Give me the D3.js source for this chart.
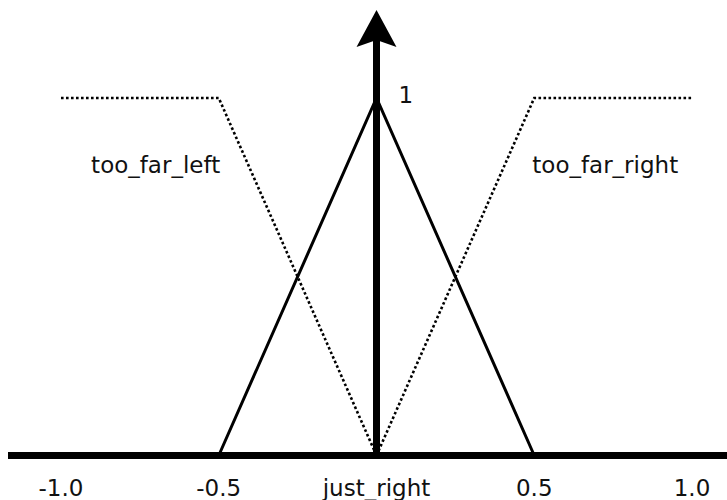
<!DOCTYPE html>
<html>
<head>
<meta charset="utf-8">
<script src="https://cdn.jsdelivr.net/npm/d3@7/dist/d3.min.js"></script>
<style>
  html, body { margin: 0; padding: 0; background: #fff; }
  svg { display: block; }
  text { font-family: "DejaVu Sans", sans-serif; font-size: 23px; fill: #111; }
</style>
</head>
<body>
<svg id="chart" width="727" height="500"></svg>
<script>
// Membership functions over the error range [-1, 1]
const tooFarLeft  = [{x: -1, y: 1}, {x: -0.5, y: 1}, {x: 0, y: 0}];
const justRight   = [{x: -0.5, y: 0}, {x: 0, y: 1}, {x: 0.5, y: 0}];
const tooFarRight = [{x: 0, y: 0}, {x: 0.5, y: 1}, {x: 1, y: 1}];

// Axis tick values and their labels
const tickValues = [-1, -0.5, 0, 0.5, 1];
const tickLabels = ["-1.0", "-0.5", "just_right", "0.5", "1.0"];

// Set names written next to the outer sets
const setLabels = [
  {text: "too_far_left",  x: -0.7,  y: 0.79},
  {text: "too_far_right", x: 0.725, y: 0.79}
];

const svg = d3.select("#chart");
const W = 727, H = 500;

const x = d3.scaleLinear().domain([-1, 1]).range([61, 692]);
const y = d3.scaleLinear().domain([0, 1]).range([455.5, 98]);

const line = d3.line().x(d => x(d.x)).y(d => y(d.y));

// horizontal axis
svg.append("line")
  .attr("x1", 8).attr("x2", W)
  .attr("y1", y(0)).attr("y2", y(0))
  .attr("stroke", "#000").attr("stroke-width", 7);

// outer sets, dotted
[tooFarLeft, tooFarRight].forEach(d => {
  svg.append("path")
    .attr("d", line(d))
    .attr("fill", "none")
    .attr("stroke", "#000")
    .attr("stroke-width", 2.6)
    .attr("stroke-dasharray", "2.6,2.4");
});

// centre set, solid triangle
svg.append("path")
  .attr("d", line(justRight))
  .attr("fill", "none")
  .attr("stroke", "#000")
  .attr("stroke-width", 3)
  .attr("stroke-linejoin", "miter");

// vertical axis with arrow head
const x0 = x(0);
svg.append("line")
  .attr("x1", x0).attr("x2", x0)
  .attr("y1", y(0)).attr("y2", 36)
  .attr("stroke", "#000").attr("stroke-width", 7);

svg.append("path")
  .attr("d", `M${x0},10 L${x0 + 20},47 L${x0},40 L${x0 - 20},47 Z`)
  .attr("fill", "#000");

// "1" beside the peak
svg.append("text")
  .attr("x", x0 + 22)
  .attr("y", y(1) + 5)
  .text("1");

// set names
svg.selectAll("text.set")
  .data(setLabels)
  .join("text")
  .attr("class", "set")
  .attr("x", d => x(d.x))
  .attr("y", d => y(d.y))
  .attr("text-anchor", "middle")
  .text(d => d.text);

// tick labels along the bottom
svg.selectAll("text.tick")
  .data(tickValues)
  .join("text")
  .attr("class", "tick")
  .attr("x", d => x(d))
  .attr("y", 496)
  .attr("text-anchor", "middle")
  .text((d, i) => tickLabels[i]);
</script>
</body>
</html>
